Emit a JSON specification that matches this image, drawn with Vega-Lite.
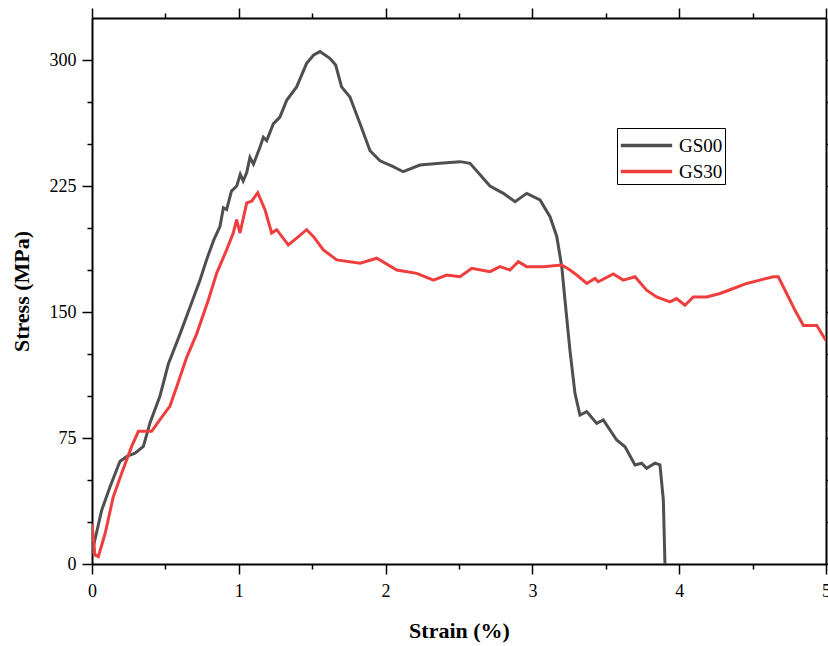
{
  "$schema": "https://vega.github.io/schema/vega-lite/v6.json",
  "width": 734,
  "height": 546,
  "autosize": "none",
  "padding": {"left": 92, "top": 18, "right": 2, "bottom": 82},
  "background": "white",
  "config": {
    "view": {"stroke": null},
    "axis": {
      "labelFont": "Liberation Serif",
      "labelFontSize": 18,
      "labelColor": "black",
      "titleFont": "Liberation Serif",
      "titleFontSize": 22,
      "titleFontWeight": "bold",
      "titleColor": "black",
      "domainColor": "black",
      "domainWidth": 2,
      "tickColor": "black",
      "tickWidth": 1.5,
      "grid": false
    }
  },
  "data": {
    "values": [
      {"series": "GS00", "strain": 0.0, "stress": 6},
      {"series": "GS00", "strain": 0.009, "stress": 10.3},
      {"series": "GS00", "strain": 0.066, "stress": 32},
      {"series": "GS00", "strain": 0.123, "stress": 46},
      {"series": "GS00", "strain": 0.19, "stress": 61},
      {"series": "GS00", "strain": 0.236, "stress": 64},
      {"series": "GS00", "strain": 0.293, "stress": 66},
      {"series": "GS00", "strain": 0.35, "stress": 70},
      {"series": "GS00", "strain": 0.395, "stress": 84},
      {"series": "GS00", "strain": 0.463, "stress": 100},
      {"series": "GS00", "strain": 0.52, "stress": 119},
      {"series": "GS00", "strain": 0.6, "stress": 137},
      {"series": "GS00", "strain": 0.668, "stress": 153},
      {"series": "GS00", "strain": 0.736, "stress": 169},
      {"series": "GS00", "strain": 0.78, "stress": 181},
      {"series": "GS00", "strain": 0.83, "stress": 193},
      {"series": "GS00", "strain": 0.872, "stress": 201},
      {"series": "GS00", "strain": 0.895, "stress": 212},
      {"series": "GS00", "strain": 0.917, "stress": 211},
      {"series": "GS00", "strain": 0.95, "stress": 222},
      {"series": "GS00", "strain": 0.986, "stress": 225},
      {"series": "GS00", "strain": 1.01, "stress": 232},
      {"series": "GS00", "strain": 1.03, "stress": 228},
      {"series": "GS00", "strain": 1.054, "stress": 233},
      {"series": "GS00", "strain": 1.076, "stress": 242},
      {"series": "GS00", "strain": 1.1, "stress": 238},
      {"series": "GS00", "strain": 1.144, "stress": 248},
      {"series": "GS00", "strain": 1.167, "stress": 254},
      {"series": "GS00", "strain": 1.19, "stress": 252},
      {"series": "GS00", "strain": 1.235, "stress": 262},
      {"series": "GS00", "strain": 1.28, "stress": 266},
      {"series": "GS00", "strain": 1.326, "stress": 276},
      {"series": "GS00", "strain": 1.394, "stress": 284},
      {"series": "GS00", "strain": 1.462, "stress": 298},
      {"series": "GS00", "strain": 1.51, "stress": 303},
      {"series": "GS00", "strain": 1.553, "stress": 305},
      {"series": "GS00", "strain": 1.62, "stress": 301},
      {"series": "GS00", "strain": 1.66, "stress": 297},
      {"series": "GS00", "strain": 1.7, "stress": 284},
      {"series": "GS00", "strain": 1.757, "stress": 278},
      {"series": "GS00", "strain": 1.826, "stress": 262},
      {"series": "GS00", "strain": 1.894, "stress": 246},
      {"series": "GS00", "strain": 1.962, "stress": 240},
      {"series": "GS00", "strain": 2.052, "stress": 236.5},
      {"series": "GS00", "strain": 2.12, "stress": 233.5},
      {"series": "GS00", "strain": 2.234, "stress": 237.5},
      {"series": "GS00", "strain": 2.37, "stress": 238.5},
      {"series": "GS00", "strain": 2.507, "stress": 239.5},
      {"series": "GS00", "strain": 2.575, "stress": 238.5},
      {"series": "GS00", "strain": 2.711, "stress": 225},
      {"series": "GS00", "strain": 2.802, "stress": 220.6},
      {"series": "GS00", "strain": 2.882, "stress": 215.7},
      {"series": "GS00", "strain": 2.961, "stress": 220.6},
      {"series": "GS00", "strain": 3.052, "stress": 216.7},
      {"series": "GS00", "strain": 3.12, "stress": 206.7},
      {"series": "GS00", "strain": 3.166, "stress": 195},
      {"series": "GS00", "strain": 3.2, "stress": 177},
      {"series": "GS00", "strain": 3.222, "stress": 157},
      {"series": "GS00", "strain": 3.256, "stress": 127},
      {"series": "GS00", "strain": 3.29, "stress": 101.6},
      {"series": "GS00", "strain": 3.324, "stress": 88.7},
      {"series": "GS00", "strain": 3.37, "stress": 90.7},
      {"series": "GS00", "strain": 3.438, "stress": 83.7},
      {"series": "GS00", "strain": 3.483, "stress": 85.7},
      {"series": "GS00", "strain": 3.574, "stress": 73.8},
      {"series": "GS00", "strain": 3.631, "stress": 69.8},
      {"series": "GS00", "strain": 3.699, "stress": 58.9},
      {"series": "GS00", "strain": 3.744, "stress": 60},
      {"series": "GS00", "strain": 3.778, "stress": 57},
      {"series": "GS00", "strain": 3.835, "stress": 60},
      {"series": "GS00", "strain": 3.869, "stress": 59},
      {"series": "GS00", "strain": 3.892, "stress": 38},
      {"series": "GS00", "strain": 3.903, "stress": 0},
      {"series": "GS30", "strain": 0.0, "stress": 24},
      {"series": "GS30", "strain": 0.02, "stress": 5.4},
      {"series": "GS30", "strain": 0.043, "stress": 4.4},
      {"series": "GS30", "strain": 0.089, "stress": 18},
      {"series": "GS30", "strain": 0.145, "stress": 40},
      {"series": "GS30", "strain": 0.202, "stress": 54},
      {"series": "GS30", "strain": 0.27, "stress": 70},
      {"series": "GS30", "strain": 0.316, "stress": 79},
      {"series": "GS30", "strain": 0.372, "stress": 79},
      {"series": "GS30", "strain": 0.406, "stress": 79},
      {"series": "GS30", "strain": 0.463, "stress": 86},
      {"series": "GS30", "strain": 0.531, "stress": 94},
      {"series": "GS30", "strain": 0.577, "stress": 105.5},
      {"series": "GS30", "strain": 0.645, "stress": 123},
      {"series": "GS30", "strain": 0.713, "stress": 137},
      {"series": "GS30", "strain": 0.792, "stress": 157},
      {"series": "GS30", "strain": 0.849, "stress": 173},
      {"series": "GS30", "strain": 0.917, "stress": 187},
      {"series": "GS30", "strain": 0.962, "stress": 197},
      {"series": "GS30", "strain": 0.985, "stress": 205},
      {"series": "GS30", "strain": 1.008, "stress": 197},
      {"series": "GS30", "strain": 1.054, "stress": 215},
      {"series": "GS30", "strain": 1.088, "stress": 216},
      {"series": "GS30", "strain": 1.129, "stress": 221},
      {"series": "GS30", "strain": 1.179, "stress": 210.7},
      {"series": "GS30", "strain": 1.224, "stress": 197},
      {"series": "GS30", "strain": 1.258, "stress": 199},
      {"series": "GS30", "strain": 1.337, "stress": 190},
      {"series": "GS30", "strain": 1.394, "stress": 194},
      {"series": "GS30", "strain": 1.462, "stress": 199},
      {"series": "GS30", "strain": 1.508, "stress": 195},
      {"series": "GS30", "strain": 1.576, "stress": 187},
      {"series": "GS30", "strain": 1.667, "stress": 181},
      {"series": "GS30", "strain": 1.826, "stress": 179},
      {"series": "GS30", "strain": 1.94, "stress": 182},
      {"series": "GS30", "strain": 2.076, "stress": 175},
      {"series": "GS30", "strain": 2.212, "stress": 173},
      {"series": "GS30", "strain": 2.326, "stress": 169},
      {"series": "GS30", "strain": 2.416, "stress": 172},
      {"series": "GS30", "strain": 2.507, "stress": 171},
      {"series": "GS30", "strain": 2.587, "stress": 176},
      {"series": "GS30", "strain": 2.711, "stress": 174},
      {"series": "GS30", "strain": 2.779, "stress": 177},
      {"series": "GS30", "strain": 2.847, "stress": 175},
      {"series": "GS30", "strain": 2.904, "stress": 180},
      {"series": "GS30", "strain": 2.961, "stress": 177},
      {"series": "GS30", "strain": 3.074, "stress": 177},
      {"series": "GS30", "strain": 3.2, "stress": 178},
      {"series": "GS30", "strain": 3.256, "stress": 175},
      {"series": "GS30", "strain": 3.302, "stress": 172},
      {"series": "GS30", "strain": 3.37, "stress": 167},
      {"series": "GS30", "strain": 3.426, "stress": 170},
      {"series": "GS30", "strain": 3.449, "stress": 168},
      {"series": "GS30", "strain": 3.551, "stress": 172.6},
      {"series": "GS30", "strain": 3.619, "stress": 169},
      {"series": "GS30", "strain": 3.699, "stress": 171},
      {"series": "GS30", "strain": 3.778, "stress": 163},
      {"series": "GS30", "strain": 3.846, "stress": 159},
      {"series": "GS30", "strain": 3.937, "stress": 156},
      {"series": "GS30", "strain": 3.982, "stress": 158},
      {"series": "GS30", "strain": 4.039, "stress": 154},
      {"series": "GS30", "strain": 4.096, "stress": 159},
      {"series": "GS30", "strain": 4.187, "stress": 159},
      {"series": "GS30", "strain": 4.278, "stress": 161},
      {"series": "GS30", "strain": 4.369, "stress": 164},
      {"series": "GS30", "strain": 4.46, "stress": 167},
      {"series": "GS30", "strain": 4.55, "stress": 169},
      {"series": "GS30", "strain": 4.641, "stress": 171},
      {"series": "GS30", "strain": 4.675, "stress": 171},
      {"series": "GS30", "strain": 4.732, "stress": 161},
      {"series": "GS30", "strain": 4.789, "stress": 151},
      {"series": "GS30", "strain": 4.846, "stress": 142},
      {"series": "GS30", "strain": 4.914, "stress": 142},
      {"series": "GS30", "strain": 4.937, "stress": 142},
      {"series": "GS30", "strain": 5.0, "stress": 133}
    ]
  },
  "layer": [
    {
      "mark": {"type": "line", "opacity": 0},
      "encoding": {
        "x": {
          "field": "strain", "type": "quantitative",
          "scale": {"domain": [0, 5], "nice": false, "zero": false},
          "axis": {"orient": "bottom", "title": null, "labels": false, "domain": false,
            "values": [0.5, 1.5, 2.5, 3.5, 4.5], "tickSize": 5}
        },
        "y": {
          "field": "stress", "type": "quantitative",
          "scale": {"domain": [0, 325], "nice": false, "zero": false},
          "axis": {"orient": "left", "title": null, "labels": false, "domain": false,
            "values": [25, 50, 100, 125, 175, 200, 250, 275], "tickSize": 5}
        },
        "detail": {"field": "series"}
      }
    },
    {
      "mark": {"type": "line", "opacity": 0},
      "encoding": {
        "x": {
          "field": "strain", "type": "quantitative",
          "axis": {"orient": "top", "title": null, "labels": false,
            "values": [0, 1, 2, 3, 4, 5], "tickSize": 10}
        },
        "y": {
          "field": "stress", "type": "quantitative",
          "axis": {"orient": "right", "title": null, "labels": false,
            "values": [0, 75, 150, 225, 300], "tickSize": 10}
        },
        "detail": {"field": "series"}
      }
    },
    {
      "mark": {"type": "line", "opacity": 0},
      "encoding": {
        "x": {
          "field": "strain", "type": "quantitative",
          "axis": {"orient": "top", "title": null, "labels": false, "domain": false,
            "values": [0.5, 1.5, 2.5, 3.5, 4.5], "tickSize": 5}
        },
        "y": {
          "field": "stress", "type": "quantitative",
          "axis": {"orient": "right", "title": null, "labels": false, "domain": false,
            "values": [25, 50, 100, 125, 175, 200, 250, 275], "tickSize": 5}
        },
        "detail": {"field": "series"}
      }
    },
    {
      "mark": {"type": "line", "strokeWidth": 3, "interpolate": "linear", "clip": true},
      "encoding": {
        "x": {
          "field": "strain", "type": "quantitative",
          "axis": {
            "orient": "bottom",
            "title": "Strain (%)",
            "titleFont": "Liberation Serif",
            "values": [0, 1, 2, 3, 4, 5],
            "tickSize": 10,
            "labelPadding": 8,
            "titlePadding": 20,
            "labelFlush": false
          }
        },
        "y": {
          "field": "stress", "type": "quantitative",
          "axis": {
            "orient": "left",
            "title": "Stress (MPa)",
            "titleFont": "Liberation Serif",
            "values": [0, 75, 150, 225, 300],
            "tickSize": 10,
            "labelPadding": 6,
            "titlePadding": 16
          }
        },
        "color": {
          "field": "series", "type": "nominal",
          "scale": {"domain": ["GS00", "GS30"], "range": ["#4f4f4f", "#ef3e3e"]},
          "legend": {
            "title": null,
            "orient": "none",
            "legendX": 525,
            "legendY": 110,
            "strokeColor": "black",
            "padding": 2,
            "symbolType": "M-1.9,0H1.9",
            "symbolSize": 729,
            "symbolStrokeWidth": 3.5,
            "symbolOffset": 12,
            "labelFont": "Liberation Serif",
            "labelFontSize": 19,
            "labelColor": "black",
            "labelOffset": 17,
            "rowPadding": 0
          }
        }
      }
    }
  ],
  "resolve": {"axis": {"x": "independent", "y": "independent"}}
}
